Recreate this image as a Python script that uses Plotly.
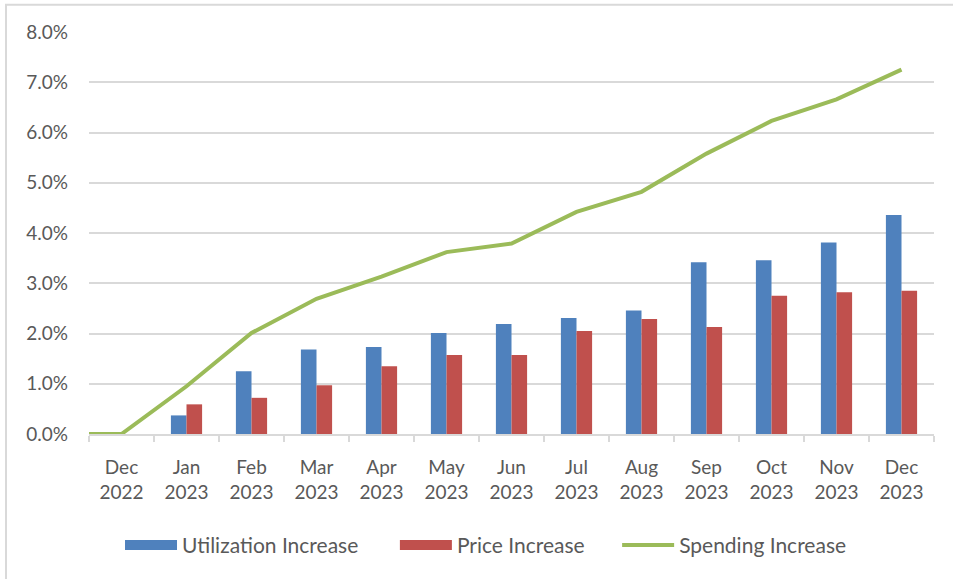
import plotly.graph_objects as go

months = ["Dec<br>2022", "Jan<br>2023", "Feb<br>2023", "Mar<br>2023", "Apr<br>2023", "May<br>2023",
          "Jun<br>2023", "Jul<br>2023", "Aug<br>2023", "Sep<br>2023", "Oct<br>2023", "Nov<br>2023", "Dec<br>2023"]
utilization = [None, 0.37, 1.25, 1.68, 1.73, 2.01, 2.19, 2.31, 2.46, 3.42, 3.46, 3.81, 4.36]
price = [None, 0.59, 0.72, 0.97, 1.35, 1.57, 1.57, 2.05, 2.29, 2.13, 2.75, 2.82, 2.85]
# spending line; the first value sits at the left edge of the axis (category position -0.5)
spending_pos = [-0.5, 0, 1, 2, 3, 4, 5, 6, 7, 8, 9, 10, 11, 12]
spending = [0.0, 0.0, 0.95, 2.01, 2.69, 3.13, 3.62, 3.79, 4.42, 4.82, 5.58, 6.23, 6.66, 7.25]
y_ticks = [0, 1, 2, 3, 4, 5, 6, 7, 8]

BLUE = "#4F81BD"
RED = "#C0504D"
GREEN = "#9BBB59"
GRID = "#D9D9D9"
TXT = "#595959"
FONT = "Lato"

fig = go.Figure()
fig.add_trace(go.Bar(x=months, y=utilization, name="Utilization Increase", showlegend=False,
                     marker=dict(color=BLUE, line=dict(width=0))))
fig.add_trace(go.Bar(x=months, y=price, name="Price Increase", showlegend=False,
                     marker=dict(color=RED, line=dict(width=0))))
fig.add_trace(go.Scatter(x=spending_pos, y=spending, name="Spending Increase", mode="lines",
                         xaxis="x2", showlegend=False, line=dict(color=GREEN, width=4)))
# legend-only entries (Excel-style wide swatches), each in its own legend box
legend_entries = [("Utilization Increase", BLUE, 13, "legend"),
                  ("Price Increase", RED, 13, "legend2"),
                  ("Spending Increase", GREEN, 4, "legend3")]
for nm, col, w, lg in legend_entries:
    fig.add_trace(go.Scatter(x=[None], y=[None], name=nm, mode="lines", xaxis="x2",
                             line=dict(color=col, width=w), hoverinfo="skip", legend=lg))

def legend_box(xpos):
    return dict(orientation="h", x=xpos, xanchor="left", y=-0.277, yanchor="middle",
                font=dict(family=FONT, size=21, color=TXT), itemwidth=52,
                bgcolor="rgba(0,0,0,0)", borderwidth=0)

fig.update_layout(
    width=953, height=579,
    margin=dict(l=89, r=19, t=31.5, b=144.5, pad=0),
    paper_bgcolor="white", plot_bgcolor="white",
    barmode="group", bargap=0.52, bargroupgap=0,
    font=dict(family=FONT, size=19, color=TXT),
    showlegend=True,
    legend=legend_box(0.0367),
    legend2=legend_box(0.362),
    legend3=legend_box(0.625),
    xaxis=dict(type="category", showgrid=False, showline=True, linecolor=GRID, linewidth=2,
               ticks="outside", tickson="boundaries", ticklen=6, tickcolor=GRID, tickwidth=2,
               tickfont=dict(family=FONT, size=19, color=TXT), range=[-0.5, 12.5],
               ticklabelstandoff=15, fixedrange=True, zeroline=False),
    xaxis2=dict(overlaying="x", range=[-0.5, 12.5], visible=False, showgrid=False,
                zeroline=False, fixedrange=True),
    yaxis=dict(range=[0, 8], tickvals=y_ticks, ticktext=[f"{v:.1f}%" for v in y_ticks],
               showgrid=True, gridcolor=GRID, gridwidth=2, showline=False, zeroline=False,
               tickfont=dict(family=FONT, size=19, color=TXT), ticks="", ticklabelstandoff=20,
               fixedrange=True),
    shapes=[dict(type="rect", xref="paper", yref="paper",
                 x0=-0.0982, x1=1.04, y0=-0.40, y1=1.068,
                 line=dict(color=GRID, width=2), fillcolor="rgba(0,0,0,0)", layer="below")],
)

fig.write_html("out.html", config={"displayModeBar": False},
               post_script="document.body.style.margin='0';")
